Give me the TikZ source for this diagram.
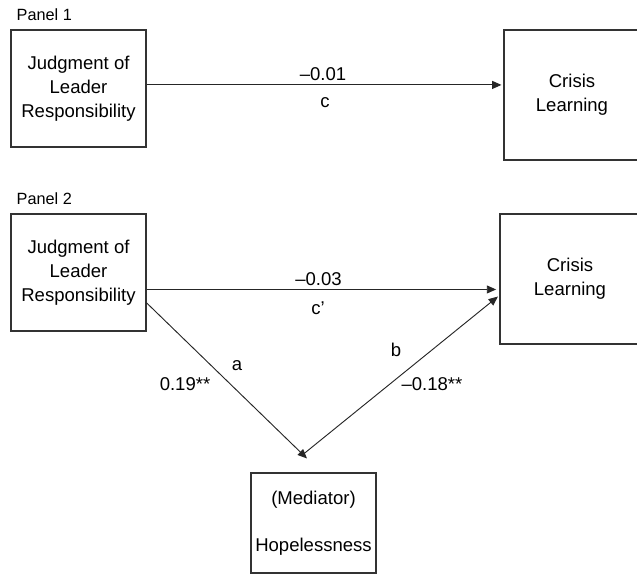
\documentclass[tikz,border=0pt]{standalone}
\usepackage{fontspec}
\setmainfont{Liberation Sans}
\usetikzlibrary{arrows.meta}

\begin{document}
\begin{tikzpicture}[x=0.75pt, y=-0.75pt, font=\fontsize{13.9}{18}\selectfont,
  box/.style={draw=black!80, line width=0.8pt, align=center, inner sep=0pt},
  arr/.style={-{Triangle[length=7pt,width=6pt]}, line width=0.7pt, color=black!85},
  lab/.style={anchor=base},
  ttl/.style={anchor=base west, font=\fontsize{12.2}{15}\selectfont}]
\useasboundingbox (0,0) rectangle (637,574);

% ---------------- Panel 1: total effect
\node[ttl] (t1) at (12,21) {Panel 1};
\node[box, minimum width=101.25pt, minimum height=87.75pt] (judge1) at (78.5,88.5) {Judgment of\\Leader\\Responsibility};
\node[box, minimum width=102pt, minimum height=97.5pt] (crisis1) at (572,95) {Crisis\\Learning};
\draw[arr, shorten >=1.5pt] (judge1.3) -- (crisis1.west |- judge1.3);
\node[lab] (w1) at (323,81) {–0.01};
\node[lab] (c1) at (325,108) {c};

% ---------------- Panel 2: mediation through hopelessness
\node[ttl] (t2) at (12,205) {Panel 2};
\node[box, minimum width=101.25pt, minimum height=87.75pt] (judge2) at (78.5,272.5) {Judgment of\\Leader\\Responsibility};
\node[box, minimum width=105pt, minimum height=97.5pt] (crisis2) at (570,279) {Crisis\\Learning};
\node[box, minimum width=93.75pt, minimum height=75pt] (hope) at (313.5,523) {(Mediator)\\[17pt]Hopelessness};
\coordinate (aend) at ([xshift=-4.9pt, yshift=10.5pt]hope.north);
\coordinate (bstart) at ([xshift=-7.9pt, yshift=13.5pt]hope.north);
\draw[arr, shorten >=2.5pt] (judge2.-14.5) -- (crisis2.west |- judge2.-14.5);
\draw[arr] (judge2.-24.3) -- (aend);
\draw[arr, shorten >=1.5pt] (bstart) -- (crisis2.193.65);
\node[lab] (w2) at (318.5,286) {–0.03};
\node[lab] (c2) at (318,315) {c'};
\node[lab] (la) at (237,371) {a};
\node[lab] (wa) at (185,391) {0.19**};
\node[lab] (lb) at (396,357) {b};
\node[lab] (wb) at (432,391) {–0.18**};
\end{tikzpicture}
\end{document}
